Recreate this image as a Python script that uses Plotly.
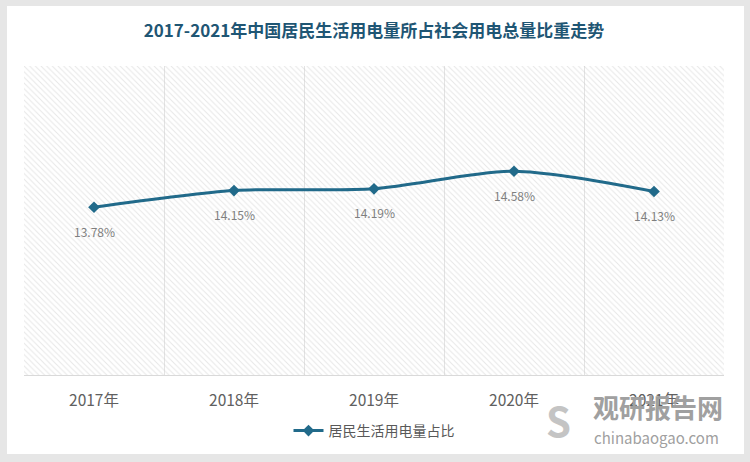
import plotly.graph_objects as go

years = ["2017年", "2018年", "2019年", "2020年", "2021年"]
shares = [13.78, 14.15, 14.19, 14.58, 14.13]
labels = ["13.78%", "14.15%", "14.19%", "14.58%", "14.13%"]
series_name = "居民生活用电量占比"
title = "2017-2021年中国居民生活用电量所占社会用电总量比重走势"

FONT = "Noto Sans CJK SC"
LINE = "#216a8a"
W, H = 750, 462
ML, MR, MT, MB = 24, 26, 66, 87
pw, ph = W - ML - MR, H - MT - MB

xs = list(range(len(years)))

fig = go.Figure()

# hatched plot-area background (on the base axes, drawn beneath)
fig.add_trace(go.Scatter(
    x=[0, 1, 1, 0, 0], y=[0, 0, 1, 1, 0], xaxis="x", yaxis="y",
    mode="lines", line=dict(width=0), fill="toself", fillcolor="rgba(0,0,0,0)",
    fillpattern=dict(shape="\\", fgcolor="#cfcfcf", bgcolor="rgba(0,0,0,0)",
                     size=4, solidity=0.25),
    hoverinfo="skip", showlegend=False))

fig.add_trace(go.Scatter(
    x=xs, y=shares, mode="lines+markers", name=series_name, xaxis="x2", yaxis="y2",
    line=dict(color=LINE, width=3, shape="spline", smoothing=0.8),
    marker=dict(symbol="diamond", size=9, color=LINE)))

for xi, yi, lab in zip(xs, shares, labels):
    fig.add_annotation(x=xi, y=yi, xref="x2", yref="y2", text=lab, showarrow=False,
                       yshift=-24, font=dict(family=FONT, size=12, color="#7f7f7f"))

def px_x(p):
    return (p - ML) / pw

def px_y(p):
    return (H - MB - p) / ph

fig.add_shape(type="rect", xref="paper", yref="paper", layer="below",
              x0=px_x(7), x1=px_x(744), y0=px_y(454), y1=px_y(6),
              fillcolor="white", line=dict(width=0))

# watermark
fig.add_annotation(xref="paper", yref="paper", x=px_x(658), y=px_y(406),
                   xanchor="center", yanchor="middle",
                   text="<b>观研报告网</b>", showarrow=False,
                   font=dict(family=FONT, size=26, color="#a0a0a0"))
fig.add_annotation(xref="paper", yref="paper", x=px_x(656), y=px_y(437),
                   xanchor="center", yanchor="middle",
                   text="chinabaogao.com", showarrow=False,
                   font=dict(family=FONT, size=15, color="#a0a0a0"))
fig.add_annotation(xref="paper", yref="paper", x=px_x(558), y=px_y(420),
                   xanchor="center", yanchor="middle",
                   text="<b>S</b>", showarrow=False,
                   font=dict(family=FONT, size=40, color="#c4c4c4"))

fig.update_layout(
    width=W, height=H,
    margin=dict(l=ML, r=MR, t=MT, b=MB),
    paper_bgcolor="#e6e6e6", plot_bgcolor="white",
    title=dict(text="<b>" + title + "</b>", x=0.5, xref="paper", xanchor="center",
               y=1 - 31 / H, yanchor="middle",
               font=dict(family=FONT, size=17, color="#1f5674")),
    xaxis=dict(range=[0, 1], visible=False, fixedrange=True),
    yaxis=dict(range=[0, 1], visible=False, fixedrange=True),
    xaxis2=dict(range=[-0.5, 4.5], overlaying="x", tickvals=xs, ticktext=years,
                showgrid=False, zeroline=False, showline=True, linecolor="#d9d9d9",
                linewidth=1, ticks="outside", ticklen=11, tickcolor="rgba(0,0,0,0)",
                side="bottom",
                tickfont=dict(family=FONT, size=15.5, color="#606060"),
                minor=dict(tickvals=[0.5, 1.5, 2.5, 3.5], showgrid=True,
                           gridcolor="#e3e3e3", gridwidth=1, ticks="")),
    yaxis2=dict(range=[10.05, 16.92], overlaying="y", showgrid=False, zeroline=False,
                showticklabels=False, showline=False),
    legend=dict(orientation="h", x=0.5, xanchor="center", y=px_y(431), yanchor="middle",
                bgcolor="rgba(0,0,0,0)",
                font=dict(family=FONT, size=14, color="#595959")),
    showlegend=True,
)

fig.write_html("out.html")
